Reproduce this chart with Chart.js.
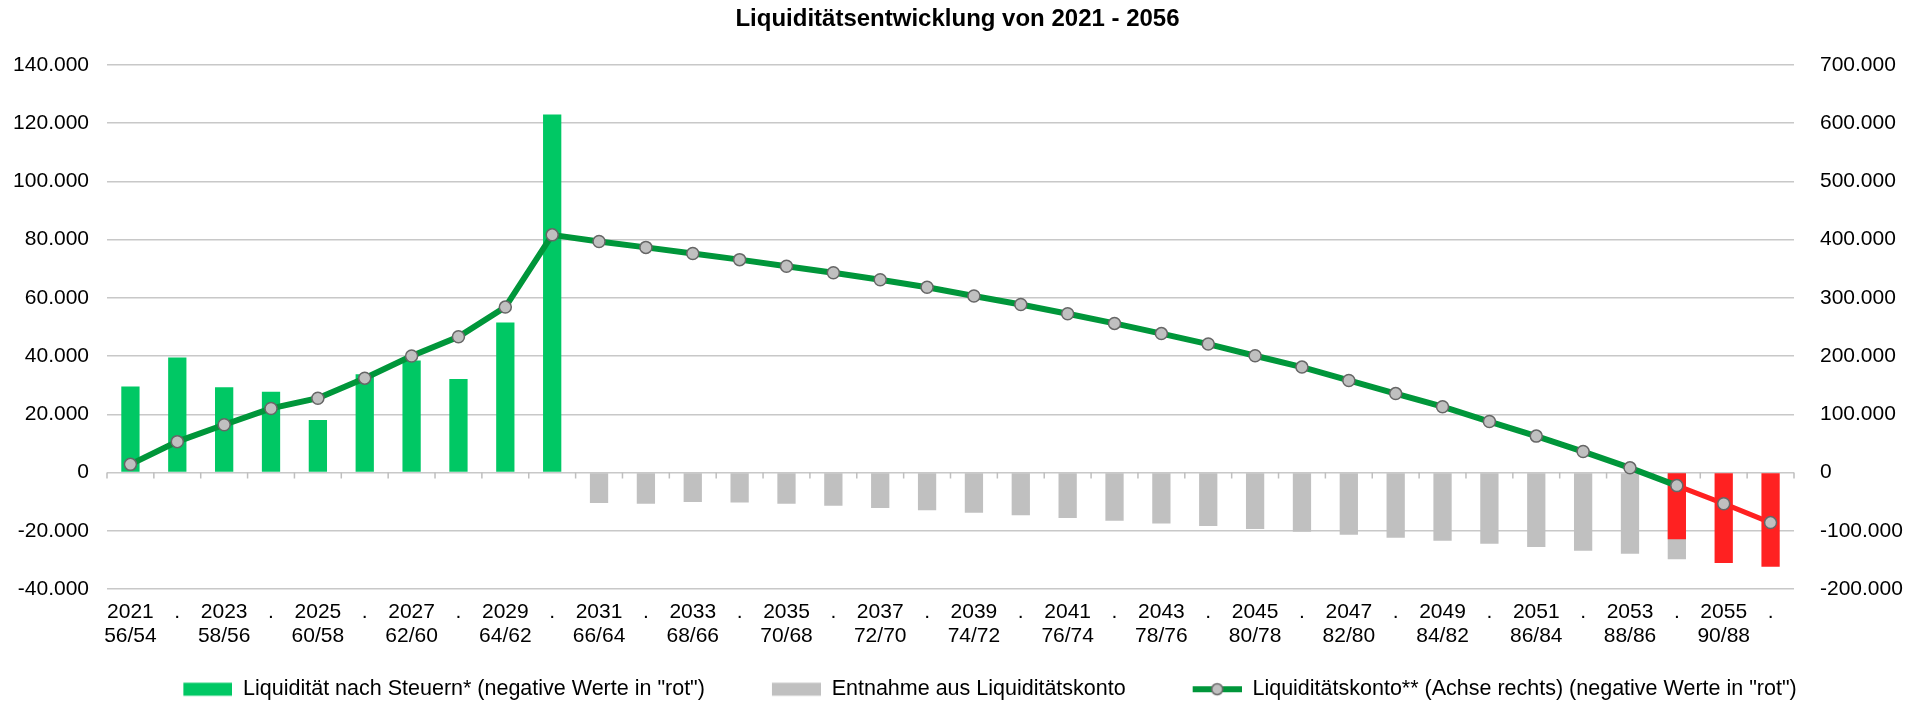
<!DOCTYPE html>
<html>
<head>
<meta charset="utf-8">
<script src="https://cdn.jsdelivr.net/npm/chart.js@4/dist/chart.umd.min.js"></script>
<style>
  html, body { margin: 0; padding: 0; background: #fff; }
</style>
</head>
<body>
<canvas id="myChart" width="1915" height="703"></canvas>
<script>
// x-axis tick labels (year / age pair every second year)
const tickLabels = [
    ['2021', '56/54'], '.', ['2023', '58/56'], '.', ['2025', '60/58'], '.',
    ['2027', '62/60'], '.', ['2029', '64/62'], '.', ['2031', '66/64'], '.',
    ['2033', '68/66'], '.', ['2035', '70/68'], '.', ['2037', '72/70'], '.',
    ['2039', '74/72'], '.', ['2041', '76/74'], '.', ['2043', '78/76'], '.',
    ['2045', '80/78'], '.', ['2047', '82/80'], '.', ['2049', '84/82'], '.',
    ['2051', '86/84'], '.', ['2053', '88/86'], '.', ['2055', '90/88'], '.'
];

// Liquidität nach Steuern (left axis), 2021-2056
const liquiditaet = [
    29500, 39500, 29300, 27700, 18000, 33700, 38500, 32100, 51500, 122900,
    null, null, null, null, null, null, null, null, null, null,
    null, null, null, null, null, null, null, null, null, null,
    null, null, null, -22900, -31100, -32400
];

// Entnahme aus Liquiditätskonto (left axis)
const entnahme = [
    null, null, null, null, null, null, null, null, null, null,
    -10500, -10700, -10100, -10300, -10700, -11400, -12200, -13000, -13800, -14700,
    -15600, -16600, -17500, -18400, -19400, -20300, -21400, -22400, -23400, -24500,
    -25600, -26900, -27900, -29800, null, null
];

// Liquiditätskonto (right axis)
const konto = [
    14000, 53000, 82000, 110000, 127500, 162000, 200000, 233000, 284000, 408000,
    396500, 386500, 376000, 365500, 354000, 343000, 331000, 318000, 303000, 288500,
    272500, 256000, 238500, 220500, 200500, 181000, 158000, 135500, 113000, 87500,
    62500, 36000, 8000, -22500, -53500, -86000
];

const green = '#00c864';
const red = '#ff2121';
const grey = '#c0c0c0';
const lineGreen = '#00963a';
const fontFamily = "'Liberation Sans', Arial, sans-serif";
const padBottom = -7;

function deNum(v) {
    const s = Math.abs(v).toFixed(0).replace(/\B(?=(\d{3})+(?!\d))/g, '.');
    return (v < 0 ? '-' : '') + s;
}

// legend icons: transparent lead-in, then the swatch on the right
function legendIcon(kind) {
    const c = document.createElement('canvas');
    c.width = 114;
    c.height = 16;
    const g = c.getContext('2d');
    if (kind === 'line') {
        g.strokeStyle = lineGreen;
        g.lineWidth = 6;
        g.beginPath();
        g.moveTo(65, 8);
        g.lineTo(114, 8);
        g.stroke();
        g.beginPath();
        g.arc(89.5, 8, 5.5, 0, Math.PI * 2);
        g.fillStyle = grey;
        g.fill();
        g.strokeStyle = '#666';
        g.lineWidth = 1.5;
        g.stroke();
    } else {
        g.fillStyle = kind;
        g.fillRect(65, 1.5, 49, 13);
    }
    return c;
}
const icons = [legendIcon(green), legendIcon(grey), legendIcon('line')];

// little tick marks on the zero line between categories
const zeroTicks = {
    id: 'zeroTicks',
    beforeDatasetsDraw(chart) {
        const x = chart.scales.x;
        const y0 = chart.scales.y.getPixelForValue(0);
        const ctx = chart.ctx;
        ctx.save();
        ctx.strokeStyle = '#bfbfbf';
        ctx.lineWidth = 1.5;
        ctx.beginPath();
        for (let i = 0; i <= tickLabels.length; i++) {
            let px;
            if (i === 0) px = x.left;
            else if (i === tickLabels.length) px = x.right;
            else px = (x.getPixelForValue(i - 1) + x.getPixelForValue(i)) / 2;
            ctx.moveTo(px, y0);
            ctx.lineTo(px, y0 + 6);
        }
        ctx.stroke();
        ctx.restore();
    }
};

const ctx = document.getElementById('myChart');
new Chart(ctx, {
    type: 'bar',
    data: {
        labels: tickLabels,
        datasets: [
            {
                label: 'Liquidität nach Steuern* (negative Werte in "rot")',
                data: liquiditaet,
                backgroundColor: c => (c.raw < 0 ? red : green),
                yAxisID: 'y',
                order: 1,
                barPercentage: 0.39,
                categoryPercentage: 1
            },
            {
                label: 'Entnahme aus Liquiditätskonto',
                data: entnahme,
                backgroundColor: grey,
                yAxisID: 'y',
                order: 2,
                barPercentage: 0.39,
                categoryPercentage: 1
            },
            {
                type: 'line',
                label: 'Liquiditätskonto** (Achse rechts) (negative Werte in "rot")',
                data: konto,
                yAxisID: 'y1',
                order: 0,
                borderColor: lineGreen,
                borderWidth: 6,
                segment: {
                    borderColor: s => (s.p0.parsed.y < 0 ? red : lineGreen),
                    borderWidth: s => (s.p0.parsed.y < 0 ? 5 : 6)
                },
                pointRadius: 6,
                pointBackgroundColor: grey,
                pointBorderColor: '#666',
                pointBorderWidth: 1.5,
                tension: 0
            }
        ]
    },
    options: {
        responsive: false,
        animation: false,
        layout: { padding: { bottom: padBottom } },
        scales: {
            x: {
                stacked: true,
                grid: { display: false, drawTicks: false },
                border: { display: false },
                ticks: {
                    color: '#000',
                    padding: 11,
                    maxRotation: 0,
                    autoSkip: false,
                    font: { family: fontFamily, size: 21, lineHeight: 1.16 }
                },
                afterFit: s => { s.height = 703 - padBottom - 589 - s.chart.legend.height; }
            },
            y: {
                stacked: false,
                position: 'left',
                min: -40000,
                max: 140000,
                grid: { color: '#c8c8c8', lineWidth: 1.5, drawTicks: false },
                border: { display: false },
                ticks: {
                    stepSize: 20000,
                    color: '#000',
                    padding: 18,
                    font: { family: fontFamily, size: 21 },
                    callback: v => deNum(v)
                },
                afterFit: s => { s.width = 107; }
            },
            y1: {
                stacked: false,
                position: 'right',
                min: -200000,
                max: 700000,
                grid: { display: false },
                border: { display: false },
                ticks: {
                    stepSize: 100000,
                    color: '#000',
                    padding: 18,
                    font: { family: fontFamily, size: 21 },
                    callback: v => deNum(v)
                },
                afterFit: s => { s.width = 121; }
            }
        },
        plugins: {
            title: {
                display: true,
                text: 'Liquiditätsentwicklung von 2021 - 2056',
                color: '#000',
                font: { family: fontFamily, size: 24, weight: 'bold', lineHeight: 1.2 },
                padding: { top: 5, bottom: 31 }
            },
            legend: {
                position: 'bottom',
                labels: {
                    usePointStyle: true,
                    pointStyleWidth: 114,
                    padding: 2,
                    color: '#000',
                    font: { family: fontFamily, size: 21.5 },
                    generateLabels: chart => chart.data.datasets.map((ds, i) => ({
                        text: ds.label,
                        pointStyle: icons[i],
                        fillStyle: 'transparent',
                        strokeStyle: 'transparent',
                        lineWidth: 0,
                        hidden: false,
                        datasetIndex: i,
                        fontColor: '#000'
                    }))
                }
            },
            tooltip: { enabled: false }
        }
    },
    plugins: [zeroTicks]
});
</script>
</body>
</html>
